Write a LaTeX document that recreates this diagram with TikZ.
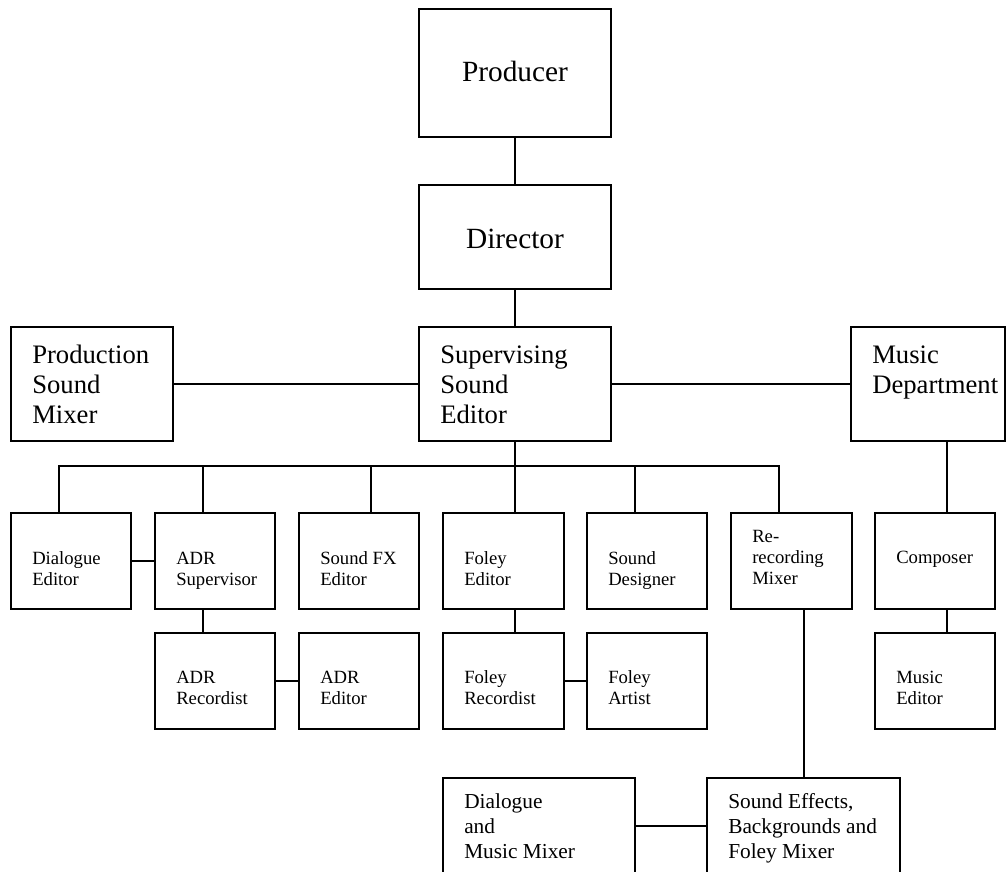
\documentclass[tikz,border=0pt]{standalone}
\usepackage{fontspec}
\setmainfont{Liberation Serif}
\begin{document}
\begin{tikzpicture}[x=0.75pt,y=-0.75pt,
  bx/.style 2 args={draw, line width=1.3pt, minimum width=#1*0.75pt, minimum height=#2*0.75pt, inner sep=0pt, outer sep=0pt},
  ln/.style={line width=1.3pt},
  tbig/.style={inner sep=0pt, anchor=base, font=\fontsize{22}{26}\selectfont},
  tmed/.style={inner sep=0pt, anchor=north west, align=left, font=\fontsize{20}{22.5}\selectfont},
  tsm/.style={inner sep=0pt, anchor=north west, align=left, font=\fontsize{14}{16}\selectfont},
  tbot/.style={inner sep=0pt, anchor=north west, align=left, font=\fontsize{16}{18.75}\selectfont}]
\useasboundingbox (0,0) rectangle (1008,872);
\clip (0,0) rectangle (1008,872);

% boxes
\node[bx={192}{128}] (prod) at (515,73) {};
\node[bx={192}{104}] (dir) at (515,237) {};
\node[bx={192}{114}] (sse) at (515,384) {};
\node[bx={162}{114}] (psm) at (92,384) {};
\node[bx={154}{114}] (md) at (928,384) {};

\node[bx={120}{96}] (de) at (71,561) {};
\node[bx={120}{96}] (adrs) at (215,561) {};
\node[bx={120}{96}] (sfx) at (359,561) {};
\node[bx={121}{96}] (fe) at (503.5,561) {};
\node[bx={120}{96}] (sd) at (647,561) {};
\node[bx={121}{96}] (rr) at (791.5,561) {};
\node[bx={120}{96}] (comp) at (935,561) {};

\node[bx={120}{96}] (adrr) at (215,681) {};
\node[bx={120}{96}] (adre) at (359,681) {};
\node[bx={121}{96}] (fr) at (503.5,681) {};
\node[bx={120}{96}] (fa) at (647,681) {};
\node[bx={120}{96}] (me) at (935,681) {};

\node[bx={192}{102}] (dmm) at (539,829) {};
\node[bx={193}{102}] (sem) at (803.5,829) {};

% texts
\node[tbig] (prod-t) at (515,81) {Producer};
\node[tbig] (dir-t) at (515,248) {Director};
\node[tmed] (sse-t) at (440,342) {\strut Supervising\\Sound\\Editor};
\node[tmed] (psm-t) at (32,342) {\strut Production\\Sound\\Mixer};
\node[tmed] (md-t) at (872,342) {\strut Music\\Department};

\node[tsm] (de-t) at (32,549) {\strut Dialogue\\Editor};
\node[tsm] (adrs-t) at (176,549) {\strut ADR\\Supervisor};
\node[tsm] (sfx-t) at (320,549) {\strut Sound FX\\Editor};
\node[tsm] (fe-t) at (464,549) {\strut Foley\\Editor};
\node[tsm] (sd-t) at (608,549) {\strut Sound\\Designer};
\node[tsm] (rr-t) at (752,527) {\strut Re-\\recording\\Mixer};
\node[tsm] (comp-t) at (896,548) {\strut Composer};

\node[tsm] (adrr-t) at (176,668) {\strut ADR\\Recordist};
\node[tsm] (adre-t) at (320,668) {\strut ADR\\Editor};
\node[tsm] (fr-t) at (464,668) {\strut Foley\\Recordist};
\node[tsm] (fa-t) at (608,668) {\strut Foley\\Artist};
\node[tsm] (me-t) at (896,668) {\strut Music\\Editor};

\node[tbot] (dmm-t) at (464,790.5) {\strut Dialogue\\and\\Music Mixer};
\node[tbot] (sem-t) at (728,790.5) {\strut Sound Effects,\\Backgrounds and\\Foley Mixer};

% connectors
\coordinate (b0) at (59,466);
\coordinate (b1) at (203,466);
\coordinate (b2) at (371,466);
\coordinate (b3) at (515,466);
\coordinate (b4) at (635,466);
\coordinate (b5) at (779,466);
\coordinate (mx) at (947,0);
\coordinate (rx) at (804,0);
\coordinate (ly) at (0,826);

\draw[ln] (prod) -- (dir);
\draw[ln] (dir) -- (sse);
\draw[ln] (psm) -- (sse);
\draw[ln] (sse) -- (md);
\draw[ln] (sse.south) -- (b3);
\draw[ln] (b0 |- de.north) -- (b0) -- (b5) -- (b5 |- rr.north);
\draw[ln] (b1) -- (b1 |- adrs.north);
\draw[ln] (b2) -- (b2 |- sfx.north);
\draw[ln] (b3) -- (b3 |- fe.north);
\draw[ln] (b4) -- (b4 |- sd.north);
\draw[ln] (md.south -| mx) -- (comp.north -| mx);
\draw[ln] (comp.south -| mx) -- (me.north -| mx);
\draw[ln] (de) -- (adrs);
\draw[ln] (adrs.south -| b1) -- (adrr.north -| b1);
\draw[ln] (adrr) -- (adre);
\draw[ln] (fe.south -| b3) -- (fr.north -| b3);
\draw[ln] (fr) -- (fa);
\draw[ln] (rr.south -| rx) -- (sem.north -| rx);
\draw[ln] (dmm.east |- ly) -- (sem.west |- ly);
\end{tikzpicture}
\end{document}
